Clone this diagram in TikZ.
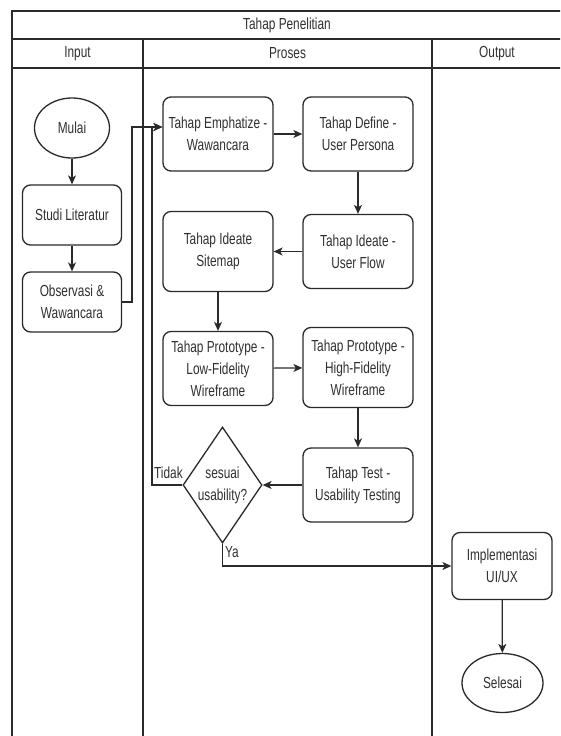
\documentclass[tikz,border=0pt]{standalone}
\usepackage{fontspec}
\setmainfont{Liberation Sans}[FakeStretch=0.74]
\usetikzlibrary{shapes.geometric,arrows.meta}
\definecolor{ink}{HTML}{2A2A2A}
\definecolor{txt}{HTML}{303030}
\begin{document}
\begin{tikzpicture}[x=1pt,y=-1pt,
  font=\fontsize{16}{22}\selectfont,
  frame/.style={draw=ink, line width=1.4pt},
  box/.style={draw=ink, line width=1.3pt, rounded corners=8pt, align=center,
    text=txt, inner sep=2pt, minimum width=110pt, minimum height=74pt},
  term/.style={ellipse, draw=ink, line width=1.3pt, text=txt, inner sep=0pt},
  dec/.style={diamond, draw=ink, line width=1.3pt, text=txt, align=center,
    inner sep=0pt, aspect=0.68, minimum width=79pt, minimum height=116pt},
  arr/.style={draw=ink, line width=1.2pt, -{Stealth[length=9pt,width=8pt,inset=2.5pt]}},
  lbl/.style={text=txt, inner sep=0pt}]
\useasboundingbox (0,0) rectangle (560,736);
\fill[white] (0,0) rectangle (560,736);
\begin{scope}
\clip (0,0) rectangle (560,736);
% swimlane frame
\draw[frame] (12,11) rectangle (562,760);
\draw[frame] (12,39) -- (562,39);
\draw[frame] (12,68) -- (562,68);
\draw[frame] (143,39) -- (143,760);
\draw[frame] (432,39) -- (432,760);
\end{scope}
\node[lbl] (title) at (287,25) {Tahap Penelitian};
\node[lbl] (hin) at (77.5,53.5) {Input};
\node[lbl] (hpr) at (287.5,53.5) {Proses};
\node[lbl] (hout) at (497,53.5) {Output};
% input column
\node[term, minimum width=75pt, minimum height=60pt] (mulai) at (72,128) {Mulai};
\node[box, minimum width=99pt, minimum height=60pt] (studi) at (72,215) {Studi Literatur};
\node[box, minimum width=99pt, minimum height=60pt] (obs) at (72,302) {Observasi \&\\Wawancara};
% process column
\node[box] (emp) at (218,134) {Tahap Emphatize -\\Wawancara};
\node[box] (def) at (358,134) {Tahap Define -\\User Persona};
\node[box] (uf) at (358,251.5) {Tahap Ideate -\\User Flow};
\node[box, minimum height=80pt] (site) at (218,251.5) {Tahap Ideate\\Sitemap};
\node[box] (low) at (218,368.5) {Tahap Prototype -\\Low-Fidelity\\Wireframe};
\node[box, minimum height=80pt] (high) at (358,367.5) {Tahap Prototype -\\High-Fidelity\\Wireframe};
\node[box] (test) at (358,485) {Tahap Test -\\Usability Testing};
\node[dec] (dia) at (222.5,485) {sesuai\\usability?};
% output column
\node[box, minimum width=100pt, minimum height=67pt] (impl) at (502,566) {Implementasi\\UI/UX};
\node[term, minimum width=81pt, minimum height=59pt] (sel) at (502.5,683) {Selesai};
% connectors
\coordinate (c1) at (132,127);
\coordinate (c2) at (152,127);
\draw[arr] (mulai) -- (studi);
\draw[arr] (studi) -- (obs);
\draw[arr] (obs.east) -| (c1) -- (c1 -| emp.west);
\draw[arr] (dia.west) -| (c2) -- (c2 -| emp.west);
\draw[arr] (emp) -- (def);
\draw[arr] (def) -- (uf);
\draw[arr] (uf) -- (site);
\draw[arr] (site) -- (low);
\draw[arr] (low) -- (high);
\draw[arr] (high) -- (test);
\draw[arr] (test) -- (dia);
\draw[arr] (dia.south) |- (impl.west);
\draw[arr] (impl) -- (sel);
\node[lbl, anchor=south west] (tidak) at (154,479) {Tidak};
\node[lbl, anchor=west] (ya) at (225,552) {Ya};
\end{tikzpicture}
\end{document}
